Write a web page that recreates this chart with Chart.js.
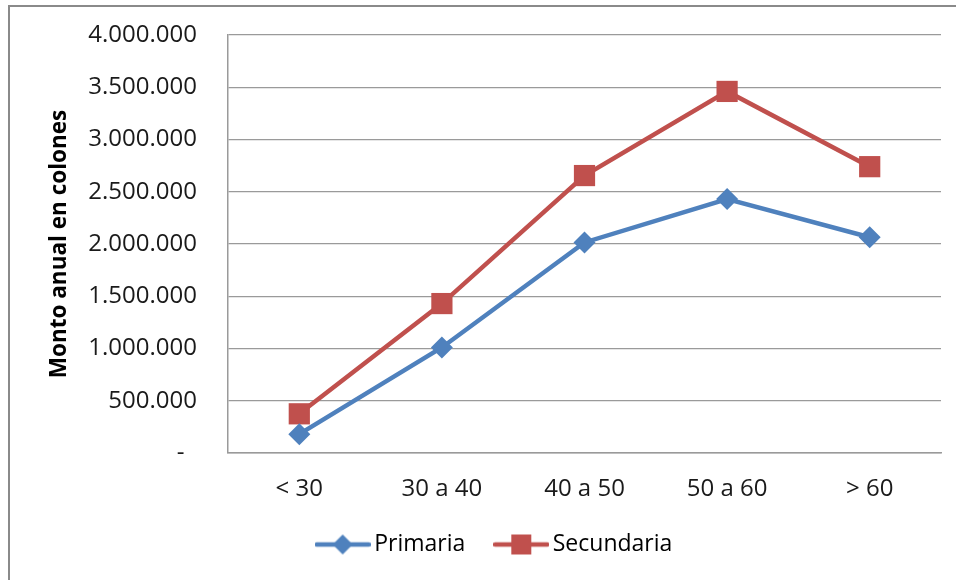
<!DOCTYPE html>
<html>
<head>
<meta charset="utf-8">
<script src="https://cdn.jsdelivr.net/npm/chart.js@4.4.0/dist/chart.umd.min.js"></script>
<style>
  html, body { margin: 0; padding: 0; background: #fff; }
  #wrap { position: relative; width: 956px; height: 580px; }
  #frame { position: absolute; left: 8px; top: 5px; right: 0; bottom: 0;
           border-left: 2px solid #8a8a8a; border-top: 2px solid #8a8a8a; }
  canvas { position: absolute; left: 0; top: 0; }
</style>
</head>
<body>
<div id="wrap">
  <div id="frame"></div>
  <canvas id="chart" width="956" height="580"></canvas>
</div>
<script>
const categories = ["< 30", "30 a 40", "40 a 50", "50 a 60", "> 60"];
const primaria = [180000, 1010000, 2015000, 2430000, 2065000];
const secundaria = [375000, 1430000, 2655000, 3460000, 2740000];
const yTicks = [0, 500000, 1000000, 1500000, 2000000, 2500000, 3000000, 3500000, 4000000];

const BLUE = "#4F81BD";
const RED = "#C0504D";
const FONT = "'Open Sans', 'Noto Sans', sans-serif";

Chart.defaults.font.family = FONT;
Chart.defaults.color = "#1a1a1a";

// thousands with dots, zero as a dash (accounting style)
function fmt(v) {
  if (v === 0) return "-  ";
  return String(v).replace(/\B(?=(\d{3})+(?!\d))/g, ".");
}

// legend swatch: line with its marker in the middle
function swatch(color, shape) {
  const c = document.createElement("canvas");
  c.width = 56;
  c.height = 24;
  const g = c.getContext("2d");
  g.strokeStyle = color;
  g.lineWidth = 4.5;
  g.lineCap = "round";
  g.beginPath();
  g.moveTo(2, 12);
  g.lineTo(54, 12);
  g.stroke();
  g.fillStyle = color;
  g.beginPath();
  if (shape === "diamond") {
    g.moveTo(28, 2); g.lineTo(38, 12); g.lineTo(28, 22); g.lineTo(18, 12);
  } else {
    g.rect(18, 2, 20, 20);
  }
  g.fill();
  return c;
}

const swatches = [swatch(BLUE, "diamond"), swatch(RED, "square")];

// Excel puts the legend a bit right of the canvas centre
const legendShift = {
  id: "legendShift",
  afterLayout(chart) {
    chart.legend.left += 27;
    chart.legend.right += 27;
  },
};

new Chart(document.getElementById("chart"), {
  type: "line",
  data: {
    labels: categories,
    datasets: [
      {
        label: "Primaria",
        data: primaria,
        borderColor: BLUE,
        backgroundColor: BLUE,
        borderWidth: 4.5,
        pointStyle: "rectRot",
        pointRadius: 11,
        pointBorderWidth: 0,
        tension: 0,
      },
      {
        label: "Secundaria",
        data: secundaria,
        borderColor: RED,
        backgroundColor: RED,
        borderWidth: 4.5,
        pointStyle: "rect",
        pointRadius: 15,
        pointBorderWidth: 0,
        tension: 0,
      },
    ],
  },
  options: {
    responsive: false,
    animation: false,
    layout: { padding: { top: 35, right: 15, bottom: 14, left: 0 } },
    scales: {
      x: {
        offset: true,
        grid: { display: false, drawTicks: false },
        border: { display: true, color: "#9a9a9a", width: 1.5 },
        ticks: { padding: 22, font: { size: 24 }, maxRotation: 0 },
        afterFit: (scale) => { scale.height = 44; },
      },
      y: {
        min: 0,
        max: 4000000,
        afterBuildTicks: (scale) => { scale.ticks = yTicks.map((v) => ({ value: v })); },
        grid: { color: "#9a9a9a", lineWidth: 1.3, drawTicks: false },
        border: { display: true, color: "#9a9a9a", width: 1.5 },
        ticks: { padding: 31, font: { size: 24 }, callback: (v) => fmt(v) },
        title: {
          display: true,
          text: "Monto anual en colones",
          font: { size: 22.5, weight: "bold" },
          color: "#000",
          padding: { top: 46, bottom: 0 },
        },
        afterFit: (scale) => {
          scale.width = 228;
          // tick padding would otherwise push the plot top down
          scale.paddingTop = 14;
          scale.paddingBottom = 14;
        },
      },
    },
    plugins: {
      tooltip: { enabled: false },
      legend: {
        position: "bottom",
        labels: {
          usePointStyle: true,
          pointStyleWidth: 40,
          padding: 36,
          font: { size: 23 },
          color: "#1a1a1a",
          generateLabels: (chart) =>
            chart.data.datasets.map((ds, i) => ({
              text: ds.label,
              pointStyle: swatches[i],
              fillStyle: ds.borderColor,
              strokeStyle: ds.borderColor,
              lineWidth: 0,
              hidden: false,
              datasetIndex: i,
            })),
        },
      },
    },
  },
  plugins: [legendShift],
});
</script>
</body>
</html>
